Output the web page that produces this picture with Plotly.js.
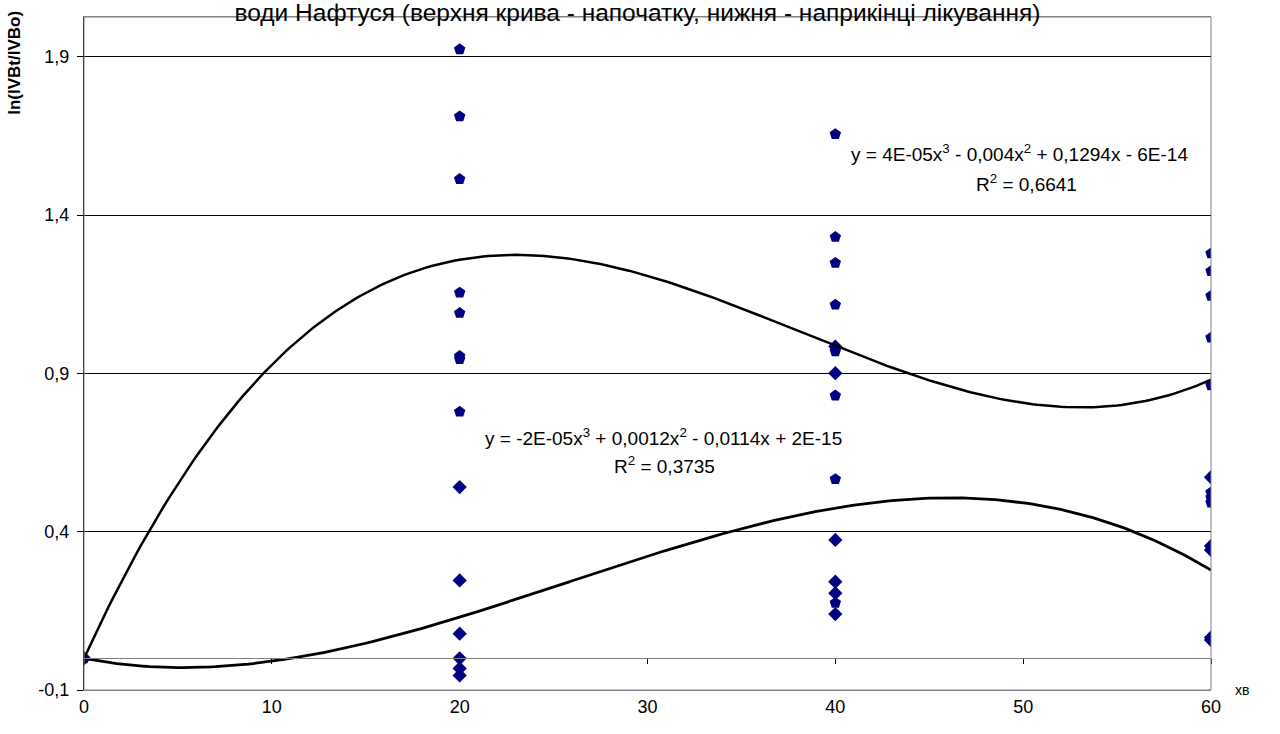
<!DOCTYPE html>
<html>
<head>
<meta charset="utf-8">
<script src="https://cdn.plot.ly/plotly-3.0.1.min.js"></script>
<style>
html,body{margin:0;padding:0;background:#fff;}
#chart{width:1280px;height:734px;}
</style>
</head>
<body>
<div id="chart"></div>
<script>
// ---- text ----
const titleText = "води Нафтуся (верхня крива - напочатку, нижня - наприкінці лікування)";
const yAxisTitle = "ln(IVBt/IVBo)";
const xAxisTitle = "хв";
const upperEq = "y = 4E-05x<sup>3</sup> - 0,004x<sup>2</sup> + 0,1294x - 6E-14";
const upperR2 = "R<sup>2</sup> = 0,6641";
const lowerEq = "y = -2E-05x<sup>3</sup> + 0,0012x<sup>2</sup> - 0,0114x + 2E-15";
const lowerR2 = "R<sup>2</sup> = 0,3735";

// ---- data: start of treatment (upper curve) ----
const upperX = [0,
  20, 20, 20, 20, 20, 20, 20, 20,
  40, 40, 40, 40, 40, 40, 40, 40,
  60, 60, 60, 60, 60, 60, 60, 60];
const upperY = [0,
  1.924, 1.712, 1.514, 1.155, 1.091, 0.955, 0.945, 0.779,
  1.656, 1.331, 1.249, 1.117, 0.970, 0.830, 0.566, 0.175,
  1.279, 1.223, 1.145, 1.013, 0.862, 0.524, 0.508, 0.492];

// ---- data: end of treatment (lower curve) ----
const lowerX = [0,
  20, 20, 20, 20, 20, 20,
  40, 40, 40, 40, 40, 40,
  60, 60, 60, 60, 60];
const lowerY = [0,
  0.541, 0.246, 0.078, 0.000, -0.032, -0.054,
  0.985, 0.901, 0.374, 0.242, 0.206, 0.140,
  0.572, 0.355, 0.342, 0.066, 0.058];

const xTicks = [0, 10, 20, 30, 40, 50, 60];
const yTicks = [-0.1, 0.4, 0.9, 1.4, 1.9];
const xRange = [0, 60];
const yRange = [-0.1, 2.026];

// ---- least-squares polynomial trendline ----
function polyfit(xs, ys, deg) {
  const s = 60; // scale for conditioning
  const n = deg + 1;
  const A = [], b = [];
  for (let i = 0; i < n; i++) { A.push(new Array(n).fill(0)); b.push(0); }
  for (let k = 0; k < xs.length; k++) {
    const u = xs[k] / s;
    for (let i = 0; i < n; i++) {
      for (let j = 0; j < n; j++) A[i][j] += Math.pow(u, i + j);
      b[i] += ys[k] * Math.pow(u, i);
    }
  }
  for (let c = 0; c < n; c++) {
    let p = c;
    for (let r = c + 1; r < n; r++) if (Math.abs(A[r][c]) > Math.abs(A[p][c])) p = r;
    [A[c], A[p]] = [A[p], A[c]]; [b[c], b[p]] = [b[p], b[c]];
    for (let r = c + 1; r < n; r++) {
      const f = A[r][c] / A[c][c];
      for (let j = c; j < n; j++) A[r][j] -= f * A[c][j];
      b[r] -= f * b[c];
    }
  }
  const coef = new Array(n).fill(0);
  for (let i = n - 1; i >= 0; i--) {
    let v = b[i];
    for (let j = i + 1; j < n; j++) v -= A[i][j] * coef[j];
    coef[i] = v / A[i][i];
  }
  return x => coef.reduce((acc, c, i) => acc + c * Math.pow(x / s, i), 0);
}
function trend(xs, ys) {
  const f = polyfit(xs, ys, 3);
  const tx = [], ty = [];
  for (let x = xRange[0]; x <= xRange[1] + 1e-9; x += 0.25) { tx.push(x); ty.push(f(x)); }
  return {tx, ty};
}
const tu = trend(upperX, upperY);
const tl = trend(lowerX, lowerY);

const navy = '#000080';
const fontFam = 'Liberation Sans, Arial, sans-serif';

const traces = [
  {x: upperX, y: upperY, type: 'scatter', mode: 'markers', name: 'upper',
   marker: {symbol: 'pentagon', size: 12, color: navy}, hoverinfo: 'x+y'},
  {x: lowerX, y: lowerY, type: 'scatter', mode: 'markers', name: 'lower',
   marker: {symbol: 'diamond', size: 11, color: navy}, hoverinfo: 'x+y'},
  {x: tu.tx, y: tu.ty, type: 'scatter', mode: 'lines', name: 'trend upper',
   line: {color: '#000', width: 2.5}, hoverinfo: 'skip'},
  {x: tl.tx, y: tl.ty, type: 'scatter', mode: 'lines', name: 'trend lower',
   line: {color: '#000', width: 2.8}, hoverinfo: 'skip'},
  {x: [null], y: [null], xaxis: 'x2', type: 'scatter', mode: 'markers',
   showlegend: false, hoverinfo: 'skip'}
];

const zeroPos = (0 - yRange[0]) / (yRange[1] - yRange[0]);
const yTickText = yTicks.map(v => v.toFixed(1).replace('.', ','));

const layout = {
  width: 1280, height: 734,
  paper_bgcolor: '#fff', plot_bgcolor: '#fff',
  margin: {l: 84, r: 69, t: 17, b: 44},
  showlegend: false,
  separators: ', ',
  font: {family: fontFam, color: '#000', size: 18},
  title: {text: titleText, x: 0.498, xanchor: 'center', y: 0.9835, yanchor: 'middle',
          font: {family: fontFam, size: 24.5, color: '#000'}},
  xaxis: {range: xRange, tickvals: xTicks, showgrid: false, zeroline: false,
          showline: true, linecolor: '#808080', linewidth: 1, mirror: true,
          ticks: '', tickfont: {size: 18, family: fontFam, color: '#000'}},
  xaxis2: {range: xRange, overlaying: 'x', anchor: 'free', position: zeroPos,
           tickvals: xTicks, ticks: 'outside', ticklen: 5, tickcolor: '#000',
           showticklabels: false, showgrid: false, zeroline: false,
           showline: true, linecolor: '#808080', linewidth: 1},
  yaxis: {range: yRange, tickvals: yTicks, ticktext: yTickText,
          showgrid: true, gridcolor: '#000', gridwidth: 1, zeroline: false,
          showline: true, linecolor: '#000', linewidth: 1,
          ticks: 'outside', ticklen: 6, tickcolor: '#000', ticklabelstandoff: 4,
          tickfont: {size: 18, family: fontFam, color: '#000'}},
  shapes: [
    {type: 'rect', xref: 'paper', yref: 'paper', x0: 0, x1: 1, y0: 0, y1: 1,
     line: {color: '#808080', width: 1}, fillcolor: 'rgba(0,0,0,0)', layer: 'above'}
  ],
  annotations: [
    {text: '<b>' + yAxisTitle + '</b>', xref: 'paper', yref: 'paper',
     x: -0.0612, y: 0.932, xanchor: 'center', yanchor: 'middle', textangle: -90,
     showarrow: false, font: {size: 17, family: fontFam, color: '#000'}},
    {text: xAxisTitle, xref: 'paper', yref: 'paper', x: 1.0275, y: 0.0,
     xanchor: 'center', yanchor: 'middle', showarrow: false,
     font: {size: 14, family: fontFam, color: '#000'}},
    {text: upperEq, xref: 'x', yref: 'y', x: 49.83, y: 1.596, xanchor: 'center', yanchor: 'middle',
     showarrow: false, font: {size: 19, family: fontFam, color: '#000'}},
    {text: upperR2, xref: 'x', yref: 'y', x: 50.2, y: 1.502, xanchor: 'center', yanchor: 'middle',
     showarrow: false, font: {size: 19, family: fontFam, color: '#000'}},
    {text: lowerEq, xref: 'x', yref: 'y', x: 30.83, y: 0.699, xanchor: 'center', yanchor: 'middle',
     showarrow: false, font: {size: 19, family: fontFam, color: '#000'}},
    {text: lowerR2, xref: 'x', yref: 'y', x: 30.88, y: 0.611, xanchor: 'center', yanchor: 'middle',
     showarrow: false, font: {size: 19, family: fontFam, color: '#000'}}
  ]
};

Plotly.newPlot('chart', traces, layout, {displayModeBar: false, staticPlot: true});
</script>
</body>
</html>
